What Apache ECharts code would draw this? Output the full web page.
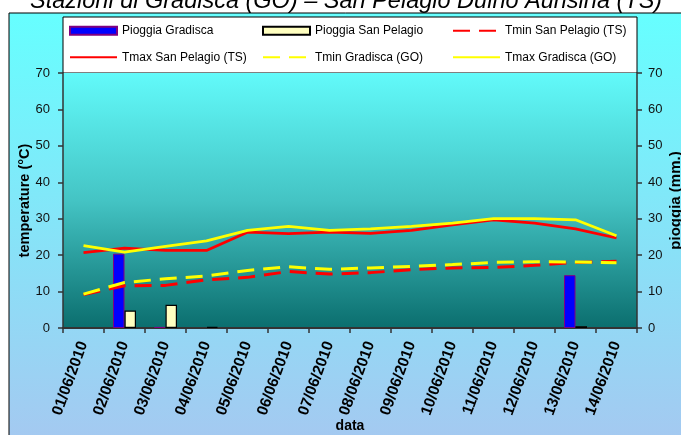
<!DOCTYPE html>
<html>
<head>
<meta charset="utf-8">
<script src="https://cdn.jsdelivr.net/npm/echarts@6/dist/echarts.min.js"></script>
<style>
  html, body { margin: 0; padding: 0; background: #ffffff; }
  #chart { width: 681px; height: 435px; }
</style>
</head>
<body>
<div id="chart"></div>
<script>
var categories = ['01/06/2010','02/06/2010','03/06/2010','04/06/2010','05/06/2010','06/06/2010','07/06/2010',
                  '08/06/2010','09/06/2010','10/06/2010','11/06/2010','12/06/2010','13/06/2010','14/06/2010'];
var rainGradisca  = [0, 20.4, 0.3, 0, 0, 0, 0, 0, 0, 0, 0, 0, 14.5, 0];
var rainSanPelagio = [0, 4.8, 6.4, 0.3, 0, 0, 0, 0, 0, 0, 0, 0, 0.5, 0];
var tminSanPelagio = [9.2, 11.6, 11.7, 13.2, 13.9, 15.5, 14.8, 15.2, 16.0, 16.5, 16.6, 17.2, 18.0, 18.3];
var tmaxSanPelagio = [20.7, 21.9, 21.3, 21.3, 26.3, 25.9, 26.3, 26.0, 26.8, 28.3, 29.7, 28.8, 27.2, 24.7];
var tminGradisca   = [9.3, 12.5, 13.5, 14.3, 15.8, 16.8, 16.1, 16.5, 16.9, 17.4, 18.0, 18.2, 18.1, 17.9];
var tmaxGradisca   = [22.6, 20.8, 22.4, 23.9, 26.8, 27.9, 26.8, 27.2, 27.9, 28.8, 30.0, 30.0, 29.7, 25.3];
var tempTicks = { min: 0, max: 70, interval: 10 };
var rainTicks = { min: 0, max: 70, interval: 10 };

// zero rainfall draws no bar (as in the original)
function hideZero(arr) { return arr.map(function (v) { return v === 0 ? null : v; }); }

var chart = echarts.init(document.getElementById('chart'), null, { renderer: 'canvas' });
var FONT = 'Liberation Sans, Arial, sans-serif';

var legendCommon = {
  padding: 0, itemWidth: 47, itemHeight: 8, itemGap: 0, selectedMode: false,
  textStyle: { fontSize: 12, color: '#000', fontFamily: FONT }
};
function lg(name, left, top, extra) {
  return Object.assign({}, legendCommon, { data: [name], left: left, top: top }, extra || {});
}
var lineLegend = { itemStyle: { opacity: 0, borderWidth: 0 } };

var option = {
  animation: false,
  textStyle: { fontFamily: FONT },
  title: {
    text: 'Stazioni di Gradisca (GO) – San Pelagio Duino Aurisina (TS)',
    left: 30, top: -10, padding: 0,
    textStyle: { fontSize: 23.5, fontStyle: 'italic', fontWeight: 'normal', color: '#000', fontFamily: FONT }
  },
  graphic: [
    {
      type: 'rect', z: -100,
      shape: { x: 9, y: 13, width: 700, height: 450 },
      style: {
        fill: new echarts.graphic.LinearGradient(0, 0, 0, 1, [
          { offset: 0, color: '#66FFFF' }, { offset: 1, color: '#A8C6F0' }
        ]),
        stroke: '#000', lineWidth: 1
      }
    },
    {
      type: 'rect', z: -50,
      shape: { x: 63, y: 17, width: 574, height: 56 },
      style: { fill: '#ffffff', stroke: '#000', lineWidth: 1 }
    }
  ],
  legend: [
    lg('Pioggia Gradisca', 69, 24.7, { icon: 'rect' }),
    lg('Pioggia San Pelagio', 262, 24.7, { icon: 'rect' }),
    lg('Tmin San Pelagio (TS)', 452, 24.7, lineLegend),
    lg('Tmax San Pelagio (TS)', 69, 51.3, lineLegend),
    lg('Tmin Gradisca (GO)', 262, 51.3, lineLegend),
    lg('Tmax Gradisca (GO)', 452, 51.3, lineLegend)
  ],
  grid: {
    left: 63, right: 44, top: 73, bottom: 107, show: true, borderWidth: 0,
    containLabel: false, outerBoundsMode: 'none',
    backgroundColor: new echarts.graphic.LinearGradient(0, 0, 0, 1, [
      { offset: 0, color: '#62FAFA' }, { offset: 0.5, color: '#44C4C4' }, { offset: 1, color: '#0B6E6E' }
    ])
  },
  xAxis: {
    type: 'category', data: categories, boundaryGap: true,
    axisLine: { show: true, lineStyle: { color: '#333', width: 2 } },
    axisTick: { show: true, length: 5, lineStyle: { color: '#333', width: 1.5 } },
    axisLabel: { interval: 0, rotate: 70, margin: 14, fontSize: 15.5, fontWeight: 'bold', color: '#000', fontFamily: FONT },
    splitLine: { show: false },
    name: 'data', nameLocation: 'middle', nameGap: 91, nameMoveOverlap: false,
    nameTextStyle: { fontSize: 14, fontWeight: 'bold', color: '#000', fontFamily: FONT }
  },
  yAxis: [
    {
      type: 'value', position: 'left', min: tempTicks.min, max: tempTicks.max, interval: tempTicks.interval,
      axisLine: { show: true, lineStyle: { color: '#333', width: 1.5 } },
      axisTick: { show: true, length: 5, lineStyle: { color: '#333', width: 1.5 } },
      axisLabel: { fontSize: 13, color: '#111', margin: 13, fontFamily: FONT },
      splitLine: { show: false },
      name: 'temperature (°C)', nameLocation: 'middle', nameGap: 31, nameRotate: 90, nameMoveOverlap: false,
      nameTextStyle: { fontSize: 14.5, fontWeight: 'bold', color: '#000', fontFamily: FONT }
    },
    {
      type: 'value', position: 'right', min: rainTicks.min, max: rainTicks.max, interval: rainTicks.interval,
      axisLine: { show: true, lineStyle: { color: '#333', width: 1.5 } },
      axisTick: { show: true, length: 5, lineStyle: { color: '#333', width: 1.5 } },
      axisLabel: { fontSize: 13, color: '#111', margin: 11, fontFamily: FONT },
      splitLine: { show: false },
      name: 'pioggia (mm.)', nameLocation: 'middle', nameGap: 31, nameRotate: 90, nameMoveOverlap: false,
      nameTextStyle: { fontSize: 15, fontWeight: 'bold', color: '#000', fontFamily: FONT }
    }
  ],
  series: [
    {
      name: 'Pioggia Gradisca', type: 'bar', yAxisIndex: 1, data: hideZero(rainGradisca),
      barWidth: 11.5, barGap: '0%',
      itemStyle: { color: '#0000FF', borderColor: '#800080', borderWidth: 1 }
    },
    {
      name: 'Pioggia San Pelagio', type: 'bar', yAxisIndex: 1, data: hideZero(rainSanPelagio),
      barWidth: 11.5, barGap: '0%',
      itemStyle: { color: '#FFFFC0', borderColor: '#000', borderWidth: 1.2 }
    },
    {
      name: 'Tmin San Pelagio (TS)', type: 'line', yAxisIndex: 0, data: tminSanPelagio,
      symbol: 'none', lineStyle: { color: '#FF0000', width: 3, type: [17, 9] }, itemStyle: { color: '#FF0000' }
    },
    {
      name: 'Tmax San Pelagio (TS)', type: 'line', yAxisIndex: 0, data: tmaxSanPelagio,
      symbol: 'none', lineStyle: { color: '#FF0000', width: 2.75 }, itemStyle: { color: '#FF0000' }
    },
    {
      name: 'Tmin Gradisca (GO)', type: 'line', yAxisIndex: 0, data: tminGradisca,
      symbol: 'none', lineStyle: { color: '#FFFF00', width: 3, type: [17, 9] }, itemStyle: { color: '#FFFF00' }
    },
    {
      name: 'Tmax Gradisca (GO)', type: 'line', yAxisIndex: 0, data: tmaxGradisca,
      symbol: 'none', lineStyle: { color: '#FFFF00', width: 2.75 }, itemStyle: { color: '#FFFF00' }
    }
  ]
};
chart.setOption(option);
</script>
</body>
</html>
